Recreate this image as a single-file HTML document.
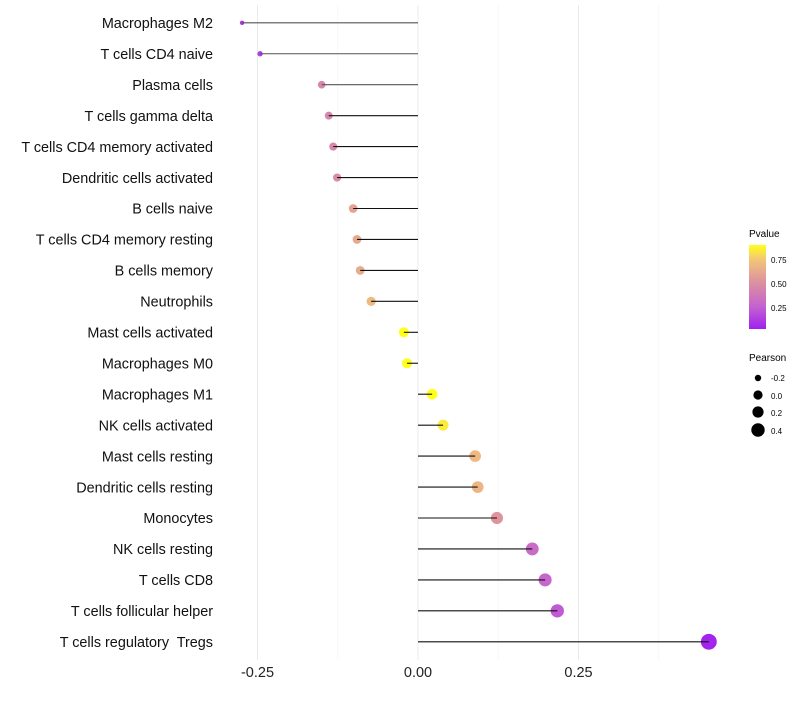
<!DOCTYPE html>
<html><head><meta charset="utf-8"><style>
body{margin:0;background:#fff;font-family:"Liberation Sans",sans-serif}
text{white-space:pre}
</style></head><body>
<svg id="chart" width="800" height="700" xmlns="http://www.w3.org/2000/svg">
<defs><linearGradient id="pg" x1="0" y1="1" x2="0" y2="0">
<stop offset="0" stop-color="#a020f0"/><stop offset="0.27" stop-color="#c463d0"/><stop offset="0.55" stop-color="#dc90a0"/><stop offset="0.82" stop-color="#f2c47a"/><stop offset="1" stop-color="#ffff1a"/></linearGradient></defs>
<g id="grid"></g><g id="marks"></g><g id="labels"></g>
<g>
<text x="749" y="237" font-size="10">Pvalue</text>
<rect x="749" y="245" width="17" height="84" fill="url(#pg)"/>
<text x="771" y="263" font-size="8">0.75</text><text x="771" y="287" font-size="8">0.50</text><text x="771" y="311" font-size="8">0.25</text>
</g>
<g>
<text x="749" y="361" font-size="10">Pearson</text>
<circle cx="758" cy="378" r="3.2"/><text x="771" y="381" font-size="8">-0.2</text>
<circle cx="758" cy="395" r="4.6"/><text x="771" y="399" font-size="8">0.0</text>
<circle cx="758" cy="412" r="5.6"/><text x="771" y="416" font-size="8">0.2</text>
<circle cx="758" cy="430" r="6.7"/><text x="771" y="434" font-size="8">0.4</text>
</g>
</svg>
<script>
const categories=["Macrophages M2","T cells CD4 naive","Plasma cells","T cells gamma delta","T cells CD4 memory activated","Dendritic cells activated","B cells naive","T cells CD4 memory resting","B cells memory","Neutrophils","Mast cells activated","Macrophages M0","Macrophages M1","NK cells activated","Mast cells resting","Dendritic cells resting","Monocytes","NK cells resting","T cells CD8","T cells follicular helper","T cells regulatory  Tregs"];
const pearson=[-0.274,-0.246,-0.150,-0.139,-0.132,-0.126,-0.101,-0.095,-0.090,-0.073,-0.022,-0.017,0.022,0.039,0.089,0.093,0.123,0.178,0.198,0.217,0.453];
const pvalues=[0.08,0.12,0.45,0.45,0.45,0.48,0.6,0.62,0.64,0.7,0.95,0.95,0.95,0.85,0.7,0.68,0.52,0.3,0.27,0.22,0.02];
const xTicks=[-0.25,0,0.25];
const xTickLabels=["-0.25","0.00","0.25"];
const NS="http://www.w3.org/2000/svg";
const x=v=>418+v*642;
const y=i=>22.8+i*30.95;
const rad=v=>Math.sqrt(5+(v+0.274)*80);
const stops=[[0,[160,32,240]],[0.25,[196,99,208]],[0.5,[220,144,160]],[0.75,[242,196,122]],[0.9,[255,255,26]]];
function col(p){p=Math.min(0.9,Math.max(0,p));for(let k=1;k<stops.length;k++){if(p<=stops[k][0]){const a=stops[k-1],b=stops[k],t=(p-a[0])/(b[0]-a[0]);return "rgb("+a[1].map((c,j)=>Math.round(c+(b[1][j]-c)*t)).join(",")+")";}}}
function mk(tag,attrs,parent){const e=document.createElementNS(NS,tag);for(const k in attrs)e.setAttribute(k,attrs[k]);document.getElementById(parent).appendChild(e);return e;}
[-0.125,0.125,0.375].forEach(t=>{const l=mk("line",{x1:x(t),x2:x(t),y1:5,y2:660,stroke:"#f4f4f4","stroke-width":0.6},"grid");

});
xTicks.forEach((t,i)=>{const l=mk("line",{x1:x(t),x2:x(t),y1:5,y2:660,stroke:"#ebebeb","stroke-width":1},"grid");


const tx=mk("text",{x:x(t),y:677,"font-size":14.5,"text-anchor":"middle",fill:"#222"},"labels");tx.textContent=xTickLabels[i];

});
categories.forEach((c,i)=>{const v=pearson[i];
const cir=mk("circle",{cx:x(v),cy:y(i),r:rad(v),fill:col(pvalues[i]),"fill-opacity":1},"marks");


const ln=mk("line",{x1:x(0),x2:x(v),y1:y(i),y2:y(i),stroke:i<3?"#555":"#111","stroke-width":1.1},"marks");


const t=mk("text",{x:213,y:y(i)+5.2,"font-size":14.4,"text-anchor":"end",fill:"#111"},"labels");t.textContent=c;

});
</script>
</body></html>
